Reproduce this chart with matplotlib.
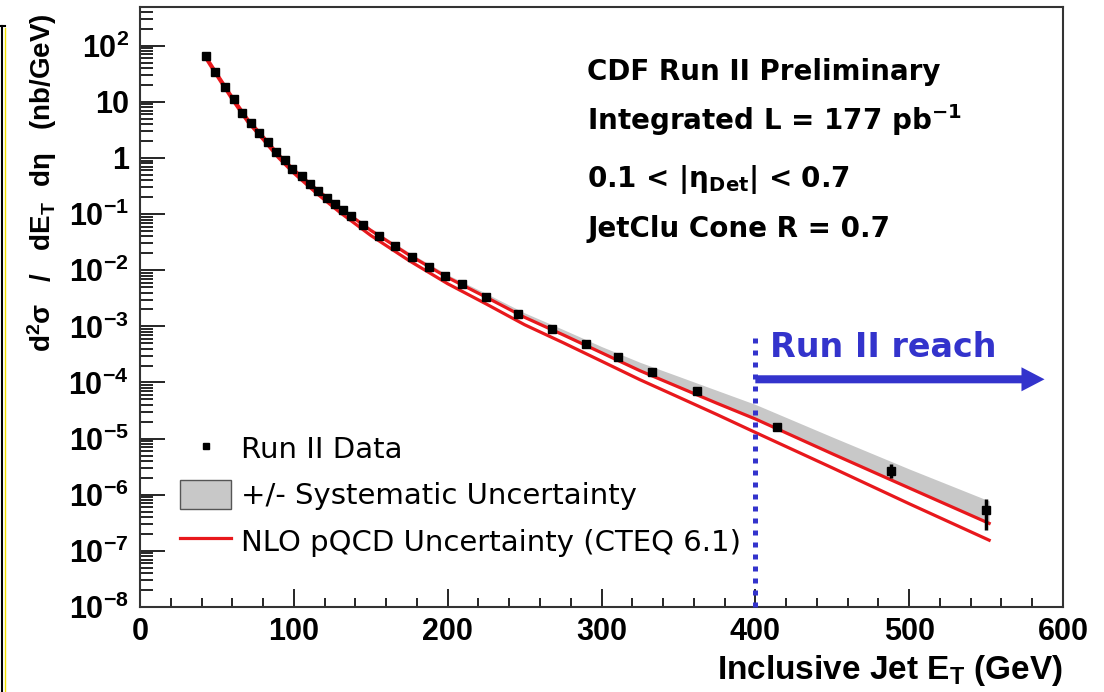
import numpy as np
import matplotlib
matplotlib.use("Agg")
import matplotlib.pyplot as plt
from matplotlib.lines import Line2D
from matplotlib.patches import Patch
from matplotlib.ticker import LogLocator, MultipleLocator, FuncFormatter, NullFormatter

plt.rcParams['mathtext.default'] = 'regular'

# Run II inclusive jet cross section, 0.1 < |eta| < 0.7
jet_et = [43, 49, 55, 61, 66.5, 72, 77.5, 83, 88.5, 94,
          99, 105, 110.5, 116, 121.5, 127, 132, 137, 145, 155.5,
          166, 177, 188, 198.5, 209.5, 225, 246, 268, 290, 311,
          333, 362, 414, 488, 550]
xsec = [64.6, 33.9, 18.4, 11.2, 6.46, 4.17, 2.82, 1.91, 1.29, 0.912,
        0.646, 0.468, 0.347, 0.260, 0.197, 0.150, 0.117, 0.0912, 0.0631, 0.0407,
        0.0269, 0.0174, 0.0112, 7.85e-3, 5.62e-3, 3.31e-3, 1.66e-3, 8.91e-4, 4.90e-4, 2.82e-4,
        1.51e-4, 7.08e-5, 1.62e-5, 2.69e-6, 5.37e-7]
xsec_err_lo = [0.0] * 32 + [1.3e-6, 0.69e-6, 2.97e-7]
xsec_err_hi = [0.0] * 32 + [1.4e-6, 0.81e-6, 2.93e-7]

# NLO pQCD (CTEQ 6.1) band edges and systematic band top
nlo_et = [42, 50, 60, 70, 80, 90, 100, 115, 130, 150, 175, 200,
          225, 250, 275, 300, 325, 350, 375, 400, 450, 500, 552]
nlo_hi = [69.2, 31.6, 12.0, 4.90, 2.40, 1.15, 0.617, 0.272, 0.129, 0.0513, 0.0186, 7.41e-3,
          3.31e-3, 1.45e-3, 7.08e-4, 3.39e-4, 1.62e-4, 8.32e-5, 4.27e-5, 2.24e-5, 5.37e-6, 1.32e-6, 3.09e-7]
nlo_lo = [64.6, 29.2, 11.0, 4.42, 2.14, 1.01, 0.537, 0.232, 0.107, 0.0417, 0.0148, 5.75e-3,
          2.51e-3, 1.07e-3, 5.13e-4, 2.40e-4, 1.12e-4, 5.50e-5, 2.69e-5, 1.29e-5, 3.02e-6, 6.92e-7, 1.55e-7]
sys_hi = [74.1, 33.9, 12.9, 5.25, 2.57, 1.23, 0.661, 0.295, 0.140, 0.0562, 0.0207, 8.32e-3,
          3.85e-3, 1.74e-3, 8.81e-4, 4.37e-4, 2.29e-4, 1.29e-4, 7.24e-5, 4.07e-5, 1.07e-5, 2.88e-6, 7.76e-7]

# Run II reach marker
reach_et = 400
reach_top = 6.1e-4
arrow_end_et = 588
arrow_y = 1.14e-4

info_lines = ["CDF Run II Preliminary",
              "Integrated L = 177 pb$^{-1}$",
              "0.1 < |\u03b7$_{Det}$| < 0.7",
              "JetClu Cone R = 0.7"]
legend_labels = ["Run II Data", "+/- Systematic Uncertainty", "NLO pQCD Uncertainty (CTEQ 6.1)"]

red = '#e8181c'
blue = '#3333cc'
band = '#c8c8c8'
tick_font = 'Liberation Sans'

fig = plt.figure(figsize=(11.04, 6.92), dpi=100)
ax = fig.add_axes([140 / 1104, 85 / 692, 923 / 1104, 600 / 692])

ax.fill_between(nlo_et, nlo_hi, sys_hi, color=band, lw=0, zorder=1)
ax.plot(nlo_et, nlo_hi, color=red, lw=2.3, zorder=2)
ax.plot(nlo_et, nlo_lo, color=red, lw=2.3, zorder=2)
ax.errorbar(jet_et, xsec, yerr=[xsec_err_lo, xsec_err_hi], fmt='s', color='black',
            ms=5.5, elinewidth=2.5, capsize=0, zorder=3)

ax.set_yscale('log')
ax.set_xlim(0, 600)
ax.set_ylim(1e-8, 10 ** 2.69)

ax.plot([reach_et, reach_et], [1e-8, reach_top], color=blue, lw=3.6,
        ls=(0, (1, 1.4)), solid_capstyle='butt', dash_capstyle='butt', zorder=4, clip_on=False)
ax.annotate('', xy=(arrow_end_et, arrow_y), xytext=(reach_et, arrow_y),
            arrowprops=dict(arrowstyle='simple,head_length=1.66,head_width=1.73,tail_width=0.58',
                            mutation_scale=10, color=blue, lw=0, shrinkA=0, shrinkB=0),
            zorder=5, annotation_clip=False)
ax.text(0.6826, 0.4167, 'Run II reach', transform=ax.transAxes, color=blue,
        fontsize=24, fontweight='bold', va='baseline', ha='left')

for text, ypos in zip(info_lines, [0.878, 0.795, 0.70, 0.617]):
    ax.text(0.4843, ypos, text, transform=ax.transAxes, fontsize=20,
            fontweight='bold', va='baseline', ha='left')

# axes styling: ticks inside, left/bottom only
ax.xaxis.set_major_locator(MultipleLocator(100))
ax.xaxis.set_minor_locator(MultipleLocator(20))
ax.yaxis.set_major_locator(LogLocator(base=10, numticks=20))
ax.yaxis.set_minor_locator(LogLocator(base=10, subs=np.arange(2, 10), numticks=20))
ax.yaxis.set_minor_formatter(NullFormatter())


def decade_label(val, pos):
    n = int(round(np.log10(val)))
    if n == 0:
        return '1'
    if n == 1:
        return '10'
    return r'$\mathregular{10^{%d}}$' % n


ax.yaxis.set_major_formatter(FuncFormatter(decade_label))
ax.tick_params(axis='both', which='both', direction='in', top=False, right=False, width=1.2)
ax.tick_params(axis='y', which='major', length=18, pad=8)
ax.tick_params(axis='y', which='minor', length=9)
ax.tick_params(axis='x', which='major', length=13, pad=7)
ax.tick_params(axis='x', which='minor', length=6.5)
for lab in ax.get_xticklabels() + ax.get_yticklabels():
    lab.set_fontfamily(tick_font)
    lab.set_fontweight('bold')
    lab.set_fontsize(22)
for sp in ax.spines.values():
    sp.set_linewidth(1.5)
    sp.set_color('#333333')

ax.set_xlabel('Inclusive Jet E$_{T}$ (GeV)', fontfamily=tick_font, fontweight='bold', fontsize=24)
ax.xaxis.label.set(ha='right', va='center')
ax.xaxis.set_label_coords(1.0, -0.105)

ax.set_ylabel('d$^{2}$\u03c3   /   dE$_{T}$  d\u03b7   (nb/GeV)', fontfamily=tick_font,
              fontweight='bold', fontsize=20)
ax.yaxis.label.set(ha='center', va='top', rotation_mode='default')
ax.yaxis.set_label_coords(-0.106, 0.99)

handles = [Line2D([], [], ls='none', marker='s', color='black', ms=5),
           Patch(facecolor=band, edgecolor='#555555', lw=1),
           Line2D([], [], color=red, lw=2.3)]
ax.legend(handles, legend_labels, loc='center left', bbox_to_anchor=(180 / 1104, 197 / 692),
          bbox_transform=fig.transFigure, frameon=False, fontsize=21, handlelength=1.75,
          handleheight=1.15, handletextpad=0.35, labelspacing=0.55, borderpad=0, borderaxespad=0)

# corner of the surrounding slide box
fig.add_artist(Line2D([2 / 1104, 2 / 1104], [0, 1 - 26 / 692], transform=fig.transFigure,
                      color='black', lw=1.5))
fig.add_artist(Line2D([0, 5 / 1104], [1 - 26 / 692, 1 - 26 / 692], transform=fig.transFigure,
                      color='black', lw=1.5))
fig.add_artist(Line2D([4.5 / 1104, 4.5 / 1104], [0, 1 - 28 / 692], transform=fig.transFigure,
                      color='#f0e000', lw=1))

fig.savefig('out.png', dpi=100)
